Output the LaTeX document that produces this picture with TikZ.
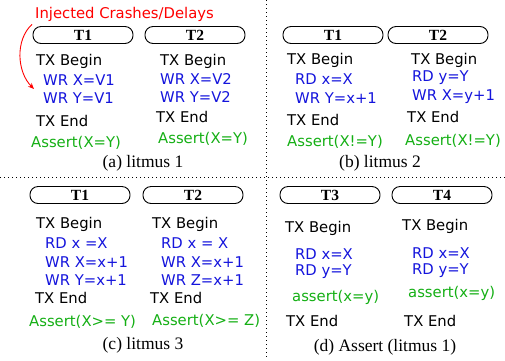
\documentclass[tikz,border=0pt]{standalone}
\usepackage{fontspec}
\setmainfont{Liberation Serif}
\newfontfamily\codefont{DejaVu Sans}
\usetikzlibrary{arrows.meta}
\definecolor{opblue}{RGB}{20,20,220}
\definecolor{okgreen}{RGB}{20,175,20}
\begin{document}
\begin{tikzpicture}[x=1pt,y=-1pt,
  lbl/.style={anchor=west,inner sep=0pt,font=\codefont\fontsize{14.8}{17}\selectfont},
  op/.style={lbl,text=opblue},
  chk/.style={lbl,text=okgreen},
  thr/.style={draw,line width=0.9pt,rounded corners=8pt,minimum width=100pt,
    minimum height=17pt,inner sep=0pt,font=\bfseries\fontsize{15.5}{17}\selectfont},
  subcap/.style={inner sep=0pt,font=\fontsize{17.5}{20}\selectfont},
  sep/.style={line width=1pt,dash pattern=on 1pt off 3pt}]
\useasboundingbox (0,0) rectangle (505,360);

% quadrant separators
\draw[sep] (0,177) -- (505,177);
\draw[sep] (266,0) -- (266,360);

% ---------------- (a) litmus 1 ----------------
\node[lbl,text=red] (inj) at (35,14) {Injected Crashes/Delays};
\node[thr] (a1) at (83,35) {T1};
\node[thr] (a2) at (195,35) {T2};
\node[lbl] (a1b) at (36,61) {TX Begin};
\node[op]  (a1w1) at (43,80) {WR X=V1};
\node[op]  (a1w2) at (43,98) {WR Y=V1};
\node[lbl] (a1e) at (36,121) {TX End};
\node[chk] (a1c) at (31,143) {Assert(X=Y)};
\node[lbl] (a2b) at (160,61) {TX Begin};
\node[op]  (a2w1) at (160,79) {WR X=V2};
\node[op]  (a2w2) at (160,97) {WR Y=V2};
\node[lbl] (a2e) at (156,117) {TX End};
\node[chk] (a2c) at (158,139) {Assert(X=Y)};
\node[subcap] (capa) at (143,163) {(a) litmus 1};
\coordinate (hit) at (34,89);
\draw[red,line width=0.9pt,-{Stealth[length=6pt,width=5pt]}]
  ([shift={(-3,3)}]inj.south west) .. controls (15,40) and (17,72) .. (hit);

% ---------------- (b) litmus 2 ----------------
\node[thr] (b1) at (333,35) {T1};
\node[thr] (b2) at (438,35) {T2};
\node[lbl] (b1b) at (287,60) {TX Begin};
\node[op]  (b1r) at (295,79) {RD x=X};
\node[op]  (b1w) at (295,98) {WR Y=x+1};
\node[lbl] (b1e) at (287,120) {TX End};
\node[chk] (b1c) at (287,142) {Assert(X!=Y)};
\node[lbl] (b2b) at (411,60) {TX Begin};
\node[op]  (b2r) at (412,78) {RD y=Y};
\node[op]  (b2w) at (412,97) {WR X=y+1};
\node[lbl] (b2e) at (407,117) {TX End};
\node[chk] (b2c) at (405,141) {Assert(X!=Y)};
\node[subcap] (capb) at (380,163) {(b) litmus 2};

% ---------------- (c) litmus 3 ----------------
\node[thr] (c1) at (80,195) {T1};
\node[thr] (c2) at (193,195) {T2};
\node[lbl] (c1b) at (36,224) {TX Begin};
\node[op]  (c1r) at (45,243) {RD x =X};
\node[op]  (c1w1) at (45,262) {WR X=x+1};
\node[op]  (c1w2) at (45,280) {WR Y=x+1};
\node[lbl] (c1e) at (35,298) {TX End};
\node[chk] (c1c) at (29,322) {Assert(X>= Y)};
\node[lbl] (c2b) at (152,224) {TX Begin};
\node[op]  (c2r) at (161,243) {RD x = X};
\node[op]  (c2w1) at (161,262) {WR X=x+1};
\node[op]  (c2w2) at (161,280) {WR Z=x+1};
\node[lbl] (c2e) at (150,298) {TX End};
\node[chk] (c2c) at (152,321) {Assert(X>= Z)};
\node[subcap] (capc) at (143,345) {(c) litmus 3};

% ---------------- (d) Assert (litmus 1) ----------------
\node[thr] (d1) at (330,195) {T3};
\node[thr] (d2) at (442,195) {T4};
\node[lbl] (d1b) at (285,228) {TX Begin};
\node[op]  (d1r1) at (295,254) {RD x=X};
\node[op]  (d1r2) at (295,272) {RD y=Y};
\node[chk] (d1c) at (292,297) {assert(x=y)};
\node[lbl] (d1e) at (286,321) {TX End};
\node[lbl] (d2b) at (402,226) {TX Begin};
\node[op]  (d2r1) at (412,253) {RD x=X};
\node[op]  (d2r2) at (412,271) {RD y=Y};
\node[chk] (d2c) at (408,293) {assert(x=y)};
\node[lbl] (d2e) at (404,321) {TX End};
\node[subcap] (capd) at (385,347) {(d) Assert (litmus 1)};
\end{tikzpicture}
\end{document}
